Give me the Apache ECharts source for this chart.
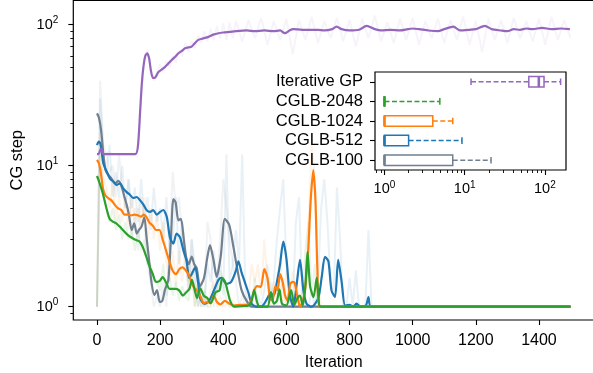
<!DOCTYPE html>
<html><head><meta charset="utf-8">
<script src="https://cdn.jsdelivr.net/npm/echarts@6/dist/echarts.min.js"></script>
<style>html,body{margin:0;padding:0;background:#fff}#c{width:593px;height:373px}</style>
</head><body><div id="c"></div>
<script>
// ---------- tick labels ----------
const xTicks = [0, 200, 400, 600, 800, 1000, 1200, 1400];
const yTickExps = [0, 1, 2];
const insetTickExps = [0, 1, 2];
const yMinorTicks = [0.9, 2, 3, 4, 5, 6, 7, 8, 9, 20, 30, 40, 50, 60, 70, 80, 90];
const insetMinorTicks = [0.8, 0.9, 2, 3, 4, 5, 6, 7, 8, 9, 20, 30, 40, 50, 60, 70, 80, 90];

// ---------- inset box plot (low whisker, q1, median, q3, high whisker) ----------
const boxCategories = ['Iterative GP', 'CGLB-2048', 'CGLB-1024', 'CGLB-512', 'CGLB-100'];
const boxIterGP = [12, 63, 84, 97.5, 157];
const box2048 = [1, 1, 1, 1, 4.9];
const box1024 = [1, 1, 1, 4.0, 7.1];
const box512 = [1, 1, 1, 2.0, 9.25];
const box100 = [1, 1, 1, 7.1, 21.3];

// ---------- smoothed CG steps [iteration, steps] ----------
const cglb100Smooth = [[0,23.5],[6,22],[13,17.9],[20,12.2],[27,9.3],[36,8.6],[46,8.1],[57,7.5],[68,7.8],[78,7.1],[87,6.0],[94,5.3],[101,4.5],[110,3.5],[118,3.9],[126,3.3],[133,3.5],[141,3.7],[150,4.3],[157,3.1],[165,2.15],[173,1.47],[182,1.21],[190,1.31],[199,1.08],[207,1.1],[215,1.31],[226,1.55],[234,2.97],[242,5.8],[249,5.5],[258,4.1],[266,4.2],[275,3.0],[282,2.27],[291,2.0],[300,2.27],[308,2.0],[316,1.87],[326,1.39],[339,1.6],[349,2.2],[358,2.74],[369,2.15],[379,1.63],[392,2.27],[405,4.2],[419,3.8],[432,2.67],[445,1.82],[458,1.31],[474,1.1],[490,1.0],[1500,1.0]];
const cglb512Smooth = [[0,14.0],[6,14.8],[11,14.3],[16,12.0],[20,10.4],[26,9.6],[31,9.1],[41,8.1],[52,7.7],[62,7.3],[73,7.5],[83,6.9],[94,6.5],[105,6.2],[115,5.9],[126,6.0],[136,5.7],[147,5.3],[157,4.85],[168,4.7],[178,4.85],[189,4.5],[200,4.7],[210,4.85],[221,4.35],[231,3.1],[242,2.8],[252,3.3],[263,3.1],[274,2.5],[284,2.1],[292,1.6],[300,1.7],[311,1.9],[320,1.5],[327,1.15],[340,1.05],[355,1.1],[370,1.3],[385,1.55],[395,1.6],[410,1.45],[425,1.5],[440,1.8],[448,2.1],[458,1.75],[468,1.5],[480,1.25],[490,1.05],[505,1.0],[520,1.0],[530,1.05],[540,1.15],[550,1.25],[560,1.2],[570,1.5],[580,2.0],[590,2.9],[600,2.2],[611,1.2],[622,1.0],[633,1.47],[643,2.15],[654,1.3],[664,1.05],[680,1.0],[701,1.15],[712,1.63],[722,2.26],[733,2.1],[743,1.3],[754,1.17],[764,2.15],[775,1.5],[786,1.02],[800,1.03],[812,1.0],[822,1.05],[835,1.0],[852,1.02],[860,1.17],[868,1.0],[1500,1.0]];
const cglb1024Smooth = [[0,11.0],[6,10.4],[12,9.0],[19,6.9],[26,6.2],[35,5.9],[45,5.7],[56,5.3],[66,5.0],[77,4.85],[87,4.5],[98,4.5],[108,4.45],[119,4.5],[129,4.45],[140,4.35],[148,4.5],[156,4.35],[166,3.95],[177,3.75],[187,3.5],[198,3.5],[208,3.0],[219,2.5],[229,2.1],[240,1.8],[250,1.7],[261,1.85],[271,1.9],[282,1.8],[292,1.66],[306,1.38],[318,1.3],[328,1.18],[338,1.06],[350,1.08],[360,1.06],[370,1.2],[380,1.08],[392,1.04],[405,1.1],[420,1.05],[434,1.02],[455,1.03],[477,1.03],[488,1.1],[498,1.31],[508,1.4],[519,1.38],[530,1.85],[540,1.6],[548,1.15],[556,1.1],[565,1.4],[572,1.31],[580,1.7],[588,1.5],[596,1.2],[604,1.1],[612,1.45],[620,1.5],[626,1.48],[636,1.15],[643,1.0],[652,1.1],[659,1.3],[669,2.5],[677,5.7],[685,9.3],[692,5.7],[698,1.9],[706,1.0],[1500,1.0]];
const cglb2048Smooth = [[0,8.45],[5,7.9],[12,7.1],[19,6.3],[29,5.1],[40,4.2],[51,4.0],[61,3.9],[72,3.7],[82,3.5],[93,3.3],[103,3.15],[114,3.05],[124,2.97],[135,2.9],[145,2.65],[156,2.27],[166,1.95],[177,1.7],[187,1.5],[198,1.52],[208,1.62],[219,1.48],[230,1.34],[240,1.34],[251,1.34],[261,1.3],[272,1.2],[282,1.26],[293,1.34],[301,1.55],[310,1.3],[317,1.15],[327,1.35],[338,1.2],[350,1.15],[360,1.06],[376,1.27],[388,1.3],[397,1.6],[406,1.5],[413,1.31],[422,1.1],[434,1.0],[460,1.01],[480,1.02],[490,1.1],[498,1.31],[506,1.1],[515,1.0],[540,1.0],[551,1.27],[560,1.05],[570,1.1],[578,1.33],[586,1.05],[600,1.02],[615,1.31],[625,1.03],[635,1.15],[643,1.2],[652,1.02],[660,1.4],[667,2.45],[675,1.4],[686,1.17],[696,1.6],[702,1.15],[708,1.0],[1500,1.0]];
const iterGPSmooth = [[0,12.1],[5,12.1],[13,13.3],[20,12.1],[60,12.1],[122,12.1],[130,14],[137,25],[142,38],[147,50],[153,60],[159,62.7],[165,58],[171,47],[177,42],[183,42],[194,46],[205,48],[215,50],[226,53],[236,56],[247,59],[258,62.7],[268,65],[279,68],[290,69],[300,70],[310,74],[321,78],[337,80],[353,82],[368,85],[385,87],[400,88],[421,89],[440,90],[474,91],[500,90],[530,91],[560,90],[580,91],[595,87],[610,91],[621,93],[650,92],[680,92],[700,92],[720,91],[745,93],[759,97],[775,93],[800,91],[830,92],[854,98],[880,93],[900,91],[930,92],[960,91],[985,93],[1000,94],[1020,93],[1050,91],[1080,90],[1100,93],[1129,97],[1150,91],[1180,92],[1200,93],[1229,98],[1250,93],[1280,91],[1300,90],[1320,93],[1340,92],[1360,94],[1380,93],[1410,95],[1440,93],[1470,94],[1498,93]];

// ---------- raw (unsmoothed) CG steps [iteration, steps] ----------
const cglb100Raw = [[0,1],[10,40],[20,14],[30,12],[40,9],[50,10],[60,6],[70,12],[80,7],[90,5],[100,8],[110,3],[120,5],[130,2.5],[140,6],[150,4],[160,2],[170,1.5],[180,1],[190,1.2],[200,1],[210,1.5],[220,1],[230,3],[240,9],[250,5],[260,6],[270,3],[280,2],[290,1.5],[300,3],[310,2],[320,1],[330,1.5],[340,1],[350,4],[360,3],[370,1],[380,1.5],[390,3],[400,8],[410,5],[420,3],[430,2],[440,1.5],[450,1],[460,1.2],[470,1],[1500,1]];
const cglb512Raw = [[0,1],[10,30],[20,12],[30,9],[40,14],[50,6],[60,9],[70,6],[80,10],[90,5],[100,8],[110,5],[120,7],[130,4],[140,8],[150,4],[160,6],[170,3.5],[180,7],[190,4],[200,5],[210,3],[220,6],[230,2.5],[240,3],[250,6],[260,2],[270,4],[280,2.5],[290,1.3],[300,3],[310,1.5],[320,1],[330,1.2],[340,1],[350,2],[360,1.5],[370,2.5],[380,1.3],[390,2.2],[400,1.2],[410,12],[420,1.5],[430,2],[440,3.5],[450,2],[460,12],[470,1.3],[480,1],[490,1.1],[500,1],[510,1.2],[520,1],[530,1.3],[540,2],[550,1.2],[560,1.5],[570,3],[580,5],[590,8],[600,2],[610,1],[620,1],[630,4],[640,6],[650,1.2],[660,1],[670,1],[680,1.3],[690,1],[700,1.5],[710,5],[720,8],[730,4],[740,1.5],[750,1.2],[760,7],[770,3],[780,1],[790,1],[800,1.6],[810,1],[820,1.8],[830,1],[840,1],[850,1],[860,3.5],[870,1],[1500,1]];
const cglb1024Raw = [[0,1],[10,20],[20,8],[30,7],[40,5],[50,8],[60,4],[70,6],[80,4],[90,6],[100,3.5],[110,6],[120,4],[130,5],[140,3.5],[150,6],[160,3],[170,5],[180,3],[190,4.5],[200,2.5],[210,4],[220,2],[230,1.5],[240,2.5],[250,1.4],[260,2.5],[270,1.5],[280,2.5],[290,1.3],[300,2],[310,1],[320,1.5],[330,1],[340,1.2],[350,1],[360,1.3],[370,1.5],[380,1],[390,1.2],[400,1],[430,1.1],[440,1],[470,1],[480,1.2],[490,2],[500,1.5],[510,2],[520,1.2],[530,3],[540,1.5],[550,1],[560,1.5],[570,1.2],[580,2.5],[590,1],[600,1.8],[610,1.3],[620,1.8],[630,1],[640,1],[650,1.3],[660,1.5],[670,4],[680,14],[690,8],[700,1.5],[710,1],[1500,1]];
const cglb2048Raw = [[0,1],[10,12],[20,6],[30,5],[40,4],[50,5],[60,3.5],[70,4.5],[80,3],[90,4],[100,3],[110,3.5],[120,2.5],[130,3.5],[140,2.5],[150,3],[160,2],[170,2],[180,1.5],[190,1.5],[200,1.3],[210,2],[220,1.2],[230,1.6],[240,1.2],[250,1.5],[260,1.1],[270,1.4],[280,1.2],[290,1.1],[300,1.8],[310,1],[320,1.4],[330,1],[340,1.3],[350,1],[360,1],[370,1.3],[380,1.2],[390,1.8],[400,1.5],[410,1.1],[420,1],[490,1],[500,1.6],[510,1],[540,1],[550,1.5],[560,1],[590,1.5],[600,1],[610,1.4],[620,1],[630,1.3],[640,1.2],[650,1],[660,2.5],[670,4],[680,1.2],[690,2],[700,1],[1500,1]];
const iterGPRaw = [[0,12],[10,13],[20,12],[40,12.5],[50,12],[120,12],[130,13],[140,30],[150,58],[160,66],[170,50],[180,40],[190,46],[200,52],[210,46],[220,55],[230,50],[240,60],[250,54],[260,66],[270,60],[280,74],[290,64],[300,76],[310,68],[320,84],[330,74],[340,90],[350,76],[360,94],[370,78],[380,98],[390,80],[400,102],[410,78],[420,104],[430,80],[440,106],[460,76],[480,108],[500,80],[520,112],[540,72],[560,106],[580,78],[600,110],[620,62],[640,108],[660,78],[680,114],[700,74],[720,106],[740,80],[760,112],[780,76],[800,108],[820,70],[840,110],[860,80],[880,116],[900,76],[920,104],[940,74],[960,110],[980,78],[1000,112],[1020,72],[1040,106],[1060,80],[1080,110],[1100,74],[1120,108],[1140,78],[1160,114],[1180,72],[1200,106],[1220,64],[1240,110],[1260,78],[1280,108],[1300,74],[1320,112],[1340,80],[1360,106],[1380,76],[1400,110],[1420,72],[1440,114],[1460,78],[1480,108],[1500,80]];

// ---------- styling ----------
const C_GRAY = '#708090', C_BLUE = '#1f77b4', C_ORANGE = '#ff7f0e', C_GREEN = '#2ca02c', C_PURPLE = '#9467bd';
const FONT = 'Liberation Sans';
const lg = v => Math.log10(v);
const toLog = arr => arr.map(p => [p[0], lg(p[1])]);

const supRich = {
  b: { fontSize: 14.5, fontFamily: FONT, color: '#000', lineHeight: 18 },
  s: { fontSize: 10, fontFamily: FONT, color: '#000', verticalAlign: 'top', lineHeight: 10 }
};
const supFmt = v => '{b|10}{s|' + Math.round(v) + '}';
const noLine = { show: false, onZero: false };

const rawLine = (data, color, op) => ({
  type: 'line', xAxisIndex: 0, yAxisIndex: 0, data: toLog(data), showSymbol: false, symbol: 'none',
  lineStyle: { color, width: 2, opacity: op }, z: 2, silent: true
});
const smoothLine = (data, color, z) => ({
  type: 'line', xAxisIndex: 0, yAxisIndex: 0, data: toLog(data), showSymbol: false, symbol: 'none',
  smooth: 0.25, lineStyle: { color, width: 2.2 }, z, silent: true
});

const boxStats = [boxIterGP, box2048, box1024, box512, box100];
const boxColors = [C_PURPLE, C_GREEN, C_ORANGE, C_BLUE, C_GRAY];

const chart = echarts.init(document.getElementById('c'), null, { renderer: 'canvas' });
chart.setOption({
  animation: false,
  backgroundColor: '#fff',
  grid: [
    { left: 73.3, top: 0.5, width: 520.9, height: 319.5, show: true, borderColor: '#000', borderWidth: 1.2, backgroundColor: 'transparent', outerBoundsMode: 'none' },
    { left: 375, top: 72, width: 191, height: 98, show: true, borderColor: '#000', borderWidth: 1.2, backgroundColor: '#fff', outerBoundsMode: 'none', z: 5 }
  ],
  xAxis: [
    { type: 'value', gridIndex: 0, min: -75, max: 1575, position: 'bottom',
      axisLine: noLine, splitLine: { show: false },
      axisTick: { show: true, length: 5, customValues: xTicks, lineStyle: { color: '#000', width: 1.1 } },
      axisLabel: { customValues: xTicks, formatter: v => String(v), color: '#000', fontSize: 16, fontFamily: FONT, margin: 13 },
      name: 'Iteration', nameLocation: 'middle', nameGap: 35,
      nameTextStyle: { color: '#000', fontSize: 16, fontFamily: FONT } },
    { type: 'value', gridIndex: 1, min: -0.118, max: 2.263, position: 'bottom', z: 6,
      axisLine: noLine, splitLine: { show: false },
      axisTick: { show: true, length: 5, customValues: insetTickExps, lineStyle: { color: '#000', width: 1.1 } },
      axisLabel: { customValues: insetTickExps, formatter: supFmt, rich: supRich, margin: 10 } },
    { type: 'value', gridIndex: 1, min: -0.118, max: 2.263, position: 'bottom', z: 6,
      axisLine: noLine, splitLine: { show: false }, axisLabel: { show: false },
      axisTick: { show: true, length: 3, customValues: insetMinorTicks.map(lg), lineStyle: { color: '#000', width: 0.9 } } }
  ],
  yAxis: [
    { type: 'value', gridIndex: 0, min: -0.0943, max: 2.1716, position: 'left',
      axisLine: noLine, splitLine: { show: false },
      axisTick: { show: true, length: 5, customValues: yTickExps, lineStyle: { color: '#000', width: 1.1 } },
      axisLabel: { customValues: yTickExps, formatter: supFmt, rich: supRich, margin: 15 },
      name: 'CG step', nameLocation: 'middle', nameGap: 45,
      nameTextStyle: { color: '#000', fontSize: 16.5, fontFamily: FONT } },
    { type: 'value', gridIndex: 0, min: -0.0943, max: 2.1716, position: 'left',
      axisLine: noLine, splitLine: { show: false }, axisLabel: { show: false },
      axisTick: { show: true, length: 3, customValues: yMinorTicks.map(lg), lineStyle: { color: '#000', width: 0.9 } } },
    { type: 'category', gridIndex: 1, data: boxCategories, inverse: true, position: 'left', z: 6,
      axisLine: noLine, splitLine: { show: false },
      axisTick: { show: true, alignWithLabel: true, interval: 0, length: 5, lineStyle: { color: '#000', width: 1.1 } },
      axisLabel: { interval: 0, color: '#000', fontSize: 16.5, fontFamily: FONT, margin: 12 } }
  ],
  series: [
    rawLine(cglb100Raw, C_GRAY, 0.1),
    rawLine(cglb512Raw, C_BLUE, 0.1),
    rawLine(cglb1024Raw, C_ORANGE, 0.1),
    rawLine(cglb2048Raw, C_GREEN, 0.1),
    rawLine(iterGPRaw, C_PURPLE, 0.08),
    smoothLine(cglb100Smooth, C_GRAY, 3),
    smoothLine(cglb512Smooth, C_BLUE, 4),
    smoothLine(cglb1024Smooth, C_ORANGE, 5),
    smoothLine(cglb2048Smooth, C_GREEN, 6),
    smoothLine(iterGPSmooth, C_PURPLE, 7),
    {
      type: 'custom', xAxisIndex: 1, yAxisIndex: 2, z: 10, silent: true,
      data: boxStats.map((s, i) => [i].concat(s.map(lg))),
      encode: { x: [1, 2, 3, 4, 5], y: 0 },
      renderItem: function (params, api) {
        const cat = api.value(0);
        const pLo = api.coord([api.value(1), cat]);
        const pQ1 = api.coord([api.value(2), cat]);
        const pMed = api.coord([api.value(3), cat]);
        const pQ3 = api.coord([api.value(4), cat]);
        const pHi = api.coord([api.value(5), cat]);
        const y = pLo[1], h = 10.5, ch = 3.3;
        const color = boxColors[params.dataIndex];
        const dashed = { stroke: color, lineWidth: 1.5, lineDash: [5, 2.5], fill: null };
        const solid = { stroke: color, lineWidth: 1.5, fill: null };
        return { type: 'group', children: [
          { type: 'line', shape: { x1: pLo[0], y1: y, x2: pQ1[0], y2: y }, style: dashed },
          { type: 'line', shape: { x1: pQ3[0], y1: y, x2: pHi[0], y2: y }, style: dashed },
          { type: 'line', shape: { x1: pLo[0], y1: y - ch, x2: pLo[0], y2: y + ch }, style: solid },
          { type: 'line', shape: { x1: pHi[0], y1: y - ch, x2: pHi[0], y2: y + ch }, style: solid },
          { type: 'rect', shape: { x: pQ1[0], y: y - h / 2, width: pQ3[0] - pQ1[0], height: h }, style: { stroke: color, lineWidth: 1.5, fill: 'none' } },
          { type: 'line', shape: { x1: pMed[0], y1: y - h / 2, x2: pMed[0], y2: y + h / 2 }, style: { stroke: color, lineWidth: 2.6 } }
        ] };
      }
    }
  ]
});
</script>
</body></html>
